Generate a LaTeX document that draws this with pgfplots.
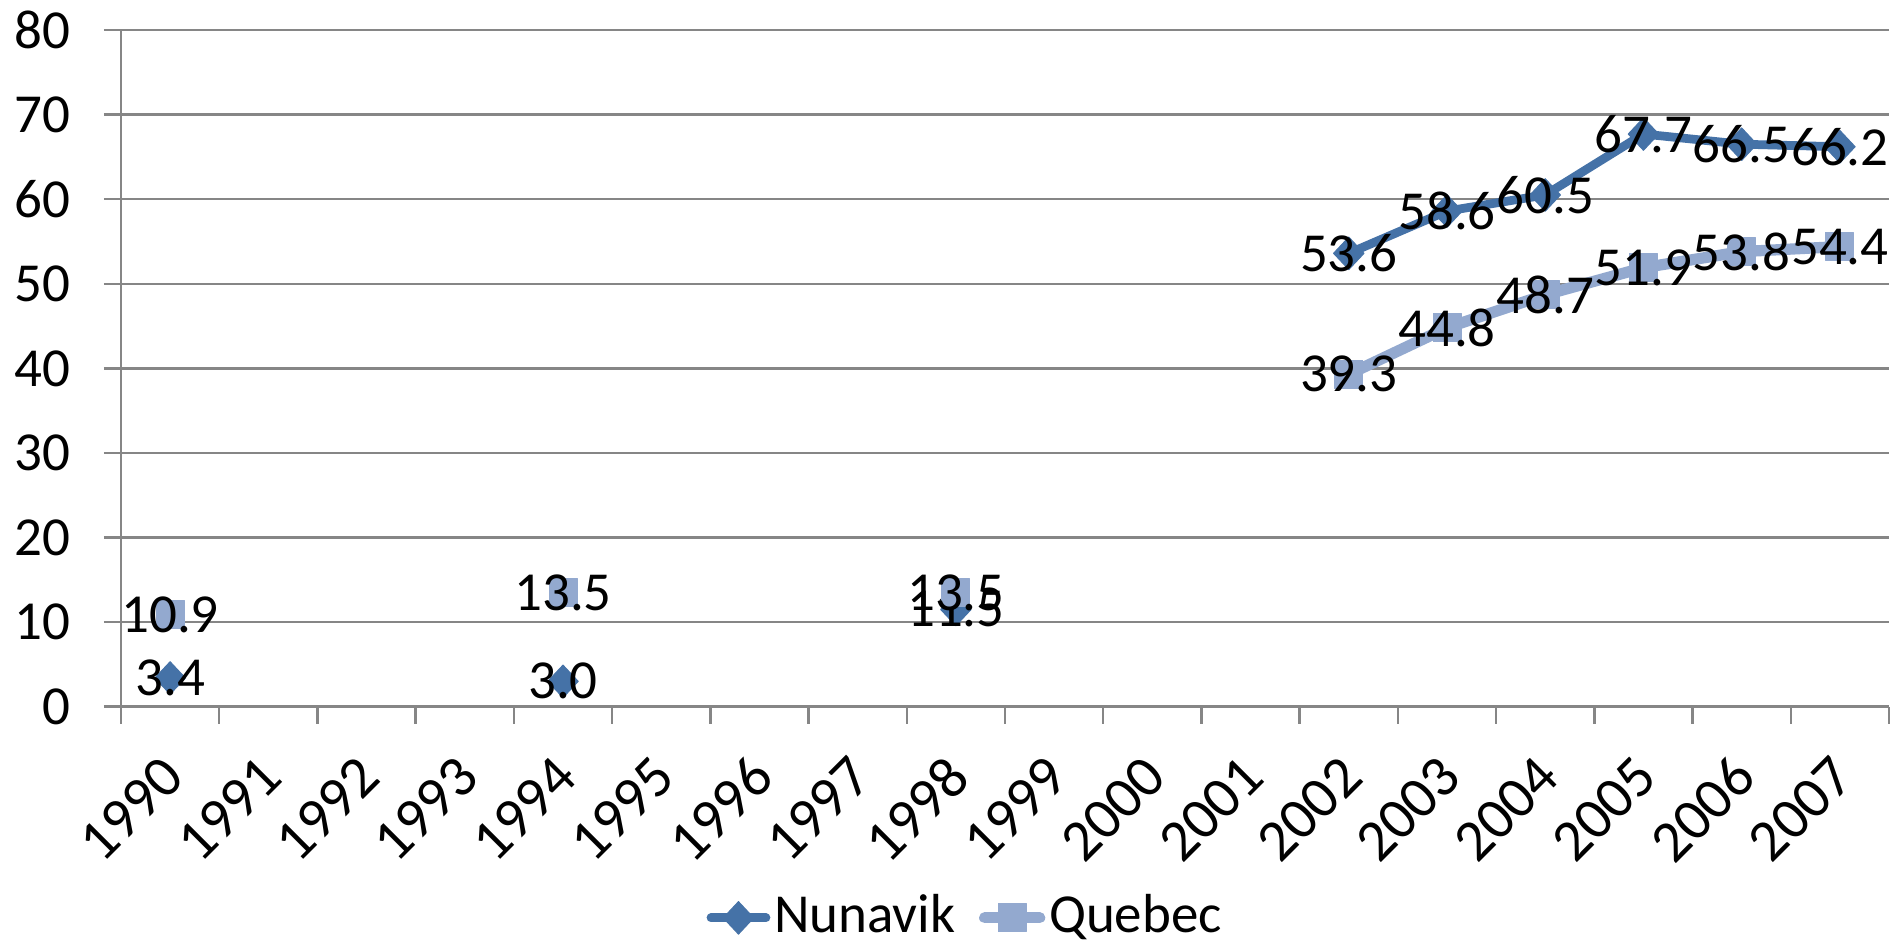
\documentclass[border=0pt]{standalone}
\usepackage{pgfplots}
\pgfplotsset{compat=1.18}
\usepackage{fontspec}
\setmainfont{Carlito}
\definecolor{nuna}{RGB}{69,114,167}
\definecolor{queb}{RGB}{147,169,207}
\definecolor{gridc}{RGB}{134,134,134}
\begin{document}
\fontsize{22}{26}\selectfont
\begin{tikzpicture}
\begin{axis}[
  name=ax,
  scale only axis,
  width=707.2pt, height=270.7pt,
  xmin=-0.5, xmax=17.5,
  ymin=0, ymax=80,
  ytick={0,10,...,80},
  xtick={0,...,17},
  xticklabels={1990,1991,1992,1993,1994,1995,1996,1997,1998,1999,2000,2001,2002,2003,2004,2005,2006,2007},
  minor xtick={-0.5,0.5,...,17.5},
  axis x line*=bottom, axis y line*=left,
  axis line style={-, draw=gridc, line width=1pt},
  tick align=outside,
  major tick length=6.8pt,
  minor tick length=6.8pt,
  xtick style={draw=none},
  minor x tick style={draw=gridc, line width=1pt},
  ytick style={draw=gridc, line width=1pt},
  ymajorgrids,
  grid style={draw=gridc, line width=1pt},
  unbounded coords=jump,
  /pgf/number format/assume math mode=true,
  tick label style={font=\fontsize{22}{26}\selectfont},
  yticklabel style={xshift=-6pt},
  xticklabel style={font=\fontsize{23.5}{27}\selectfont, xshift=6.5pt, yshift=-12pt, rotate=45, anchor=east},
  legend style={draw=none, at={(0.478,-0.312)}, anchor=center, legend columns=2,
    font=\fontsize{22}{26}\selectfont, nodes={inner xsep=1.5pt},
    /tikz/every even column/.append style={column sep=8pt}},
  legend image code/.code={\draw[mark repeat=2,mark phase=2,#1] plot coordinates {(0pt,0pt) (11pt,0pt) (22pt,0pt)};},
  nodes near coords,
  nodes near coords style={anchor=center, text=black, font=\fontsize{22}{26}\selectfont,
    /pgf/number format/.cd, fixed, fixed zerofill, precision=1},
]
\addplot[nuna, line width=3.5pt, line join=round, line cap=round, mark=diamond*, mark size=6.5pt,
  mark options={solid, line width=0.4pt, xscale=1.25, fill=nuna, draw=nuna}] coordinates {
 (0,3.4) (1,nan) (2,nan) (3,nan) (4,3.0) (5,nan) (6,nan) (7,nan) (8,11.5) (9,nan) (10,nan) (11,nan)
 (12,53.6) (13,58.6) (14,60.5) (15,67.7) (16,66.5) (17,66.2)};
\addlegendentry{Nunavik}
\addplot[queb, line width=4.5pt, line join=round, line cap=round, mark=square*, mark size=5.6pt,
  mark options={solid, line width=0.4pt, fill=queb, draw=queb}] coordinates {
 (0,10.9) (1,nan) (2,nan) (3,nan) (4,13.5) (5,nan) (6,nan) (7,nan) (8,13.5) (9,nan) (10,nan) (11,nan)
 (12,39.3) (13,44.8) (14,48.7) (15,51.9) (16,53.8) (17,54.4)};
\addlegendentry{Quebec}
\end{axis}
\pgfresetboundingbox
\path ([xshift=-48.4pt, yshift=-93.2pt]ax.south west) rectangle ([xshift=2.4pt, yshift=12pt]ax.north east);
\end{tikzpicture}
\end{document}
